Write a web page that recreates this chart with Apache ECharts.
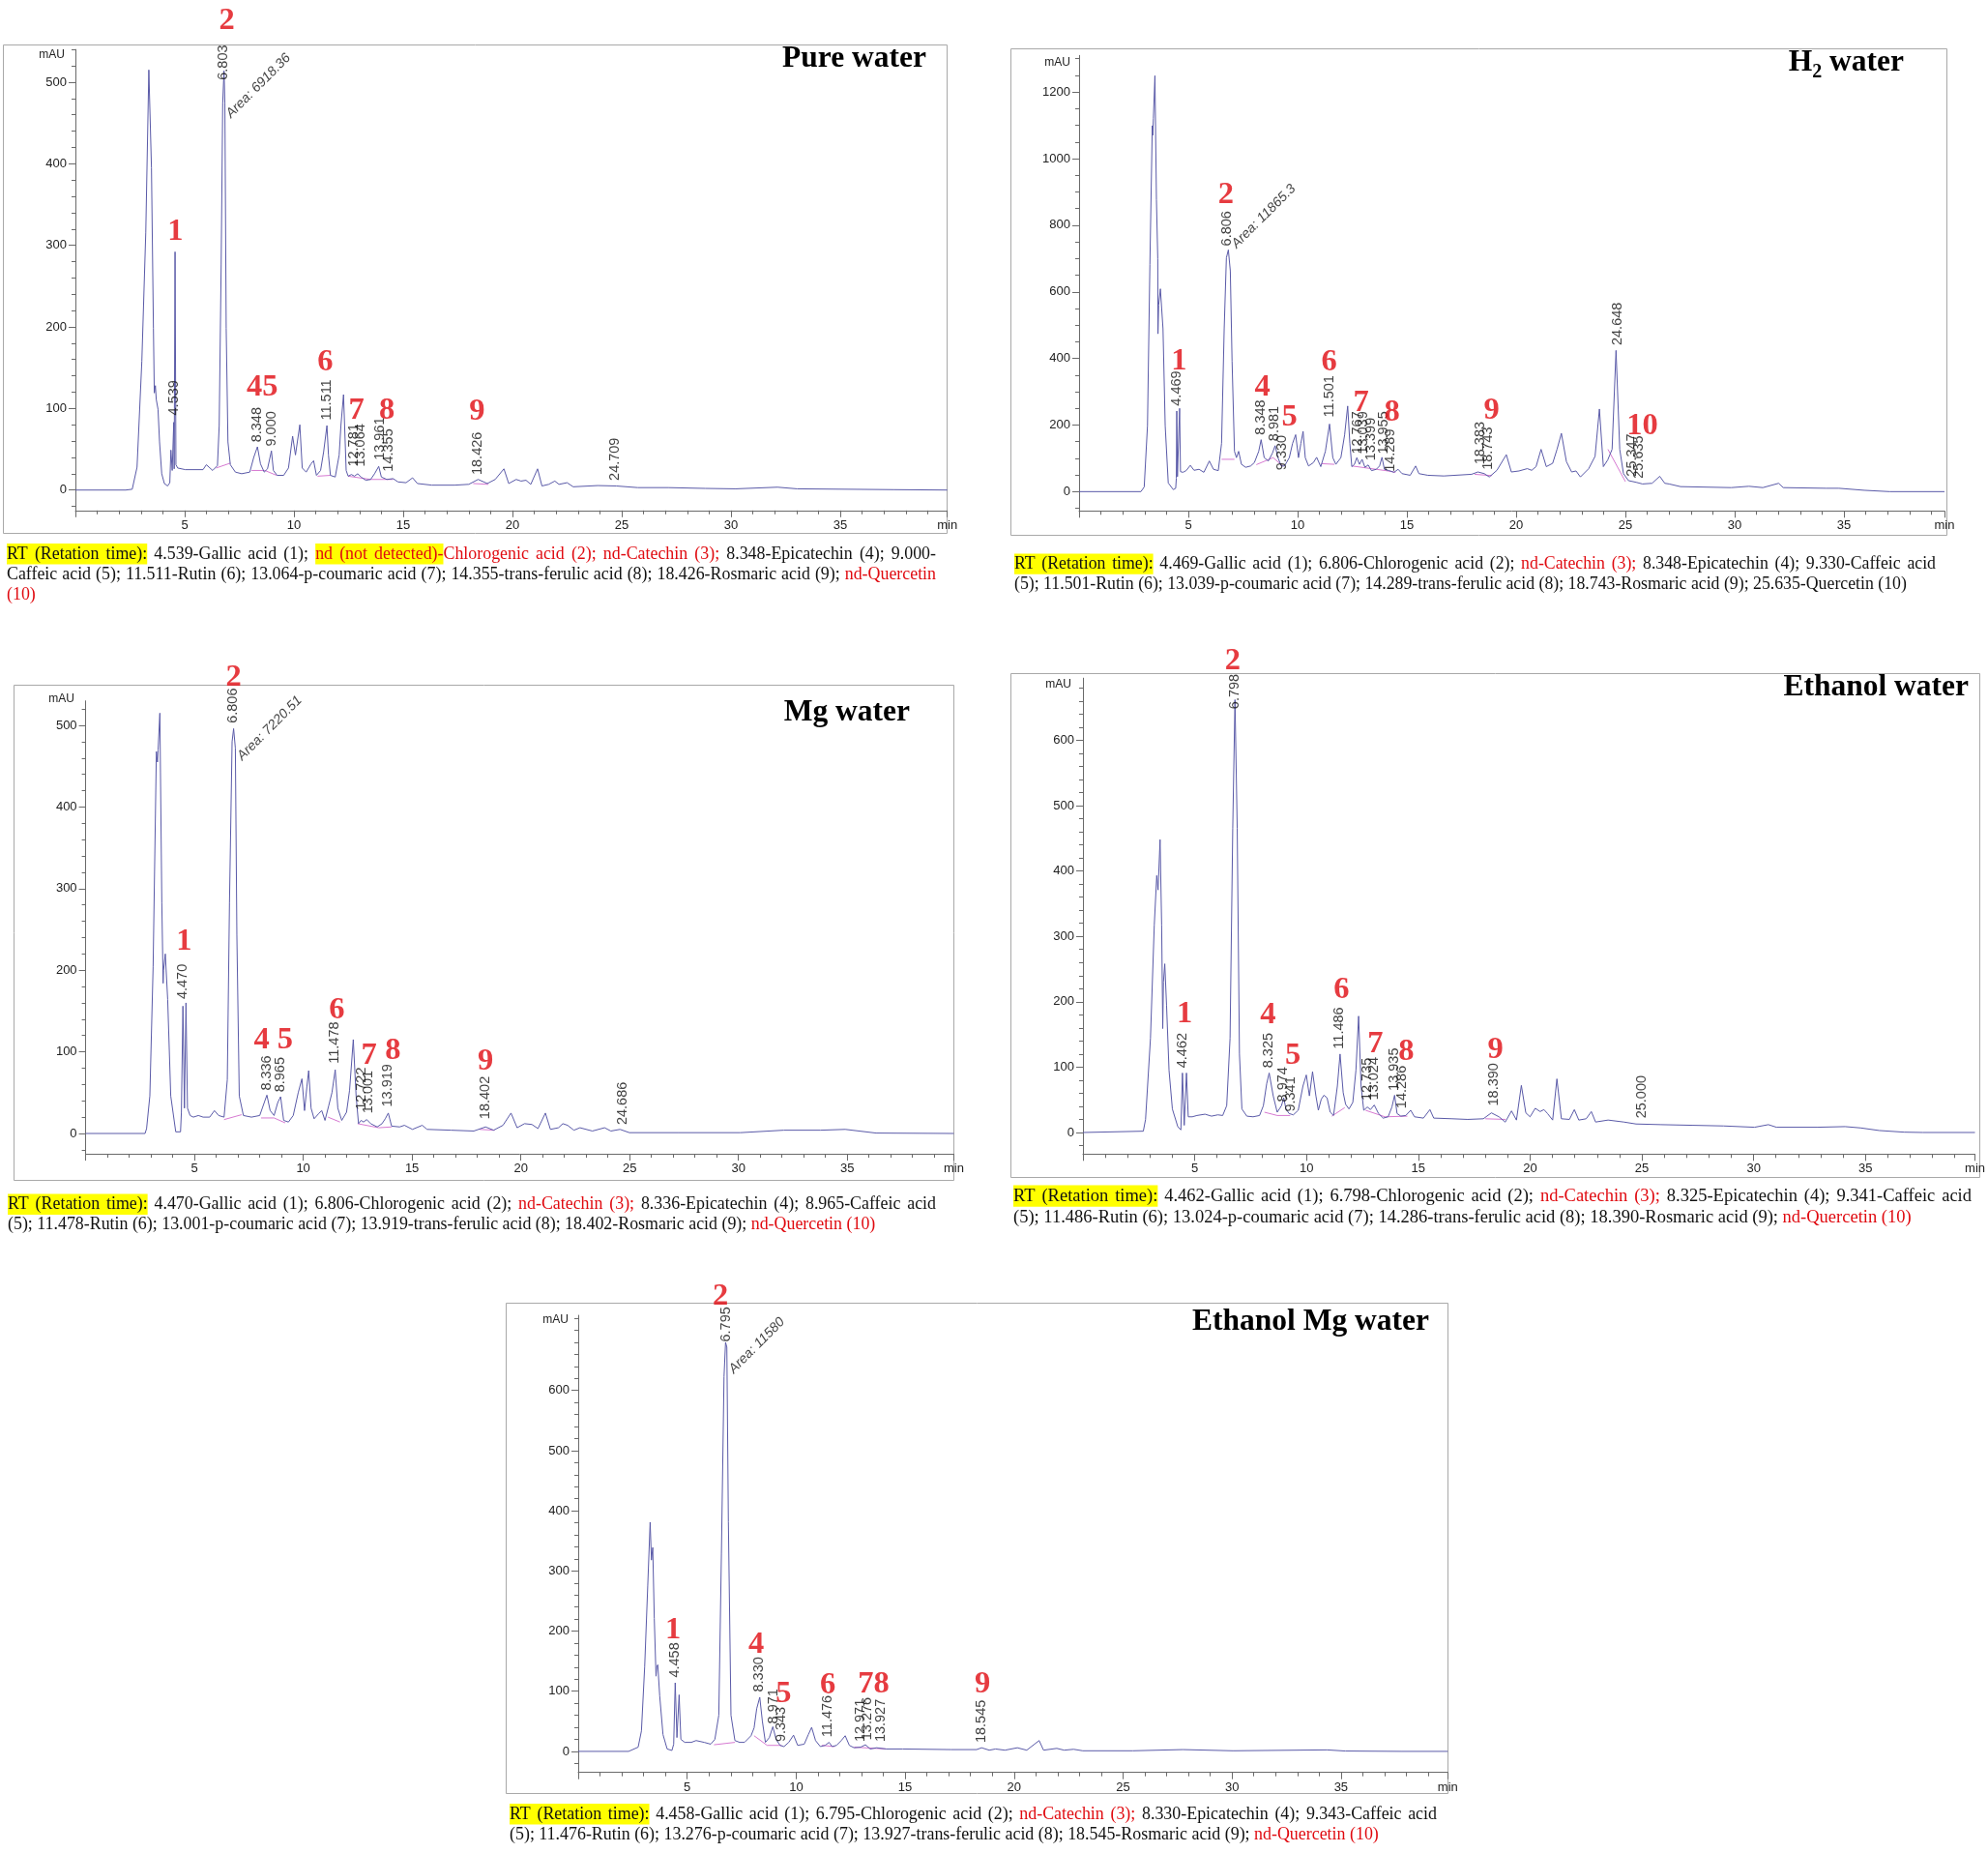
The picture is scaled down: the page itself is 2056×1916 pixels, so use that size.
<!DOCTYPE html>
<html><head><meta charset="utf-8">
<script src="https://cdn.jsdelivr.net/npm/echarts@6/dist/echarts.min.js"></script>
<style>html,body{margin:0;padding:0;background:#fff}#c{width:2056px;height:1916px}</style>
</head><body><div id="c"></div>
<script>
// ===================== DATA =====================
// Chromatogram traces: [retention time (min), absorbance (mAU)]
const pureTrace = [[0,0],[2.3,0],[2.6,1],[2.82,28],[3.04,158],[3.22,316],[3.36,515],[3.48,395],[3.57,198],[3.61,119],[3.66,128],[3.70,111],[3.78,99],[3.85,59],[3.95,20],[4.07,8],[4.22,5],[4.32,9],[4.37,49],[4.43,24],[4.50,83],[4.52,26],[4.56,292],[4.60,31],[4.68,27],[5.03,25],[5.84,25],[5.99,31],[6.28,24],[6.50,30],[6.58,79],[6.67,277],[6.74,474],[6.80,514],[6.84,474],[6.90,198],[6.98,59],[7.09,31],[7.32,22],[7.61,20],[7.98,22],[8.16,40],[8.33,53],[8.47,32],[8.64,22],[8.79,26],[8.97,48],[9.06,24],[9.23,18],[9.53,18],[9.75,27],[9.94,66],[10.07,43],[10.27,80],[10.38,27],[10.56,22],[10.78,32],[10.90,36],[11.03,18],[11.22,24],[11.36,47],[11.51,79],[11.58,43],[11.67,18],[11.89,16],[12.07,43],[12.15,79],[12.27,117],[12.39,24],[12.48,17],[12.63,19],[12.77,17],[12.92,20],[13.07,16],[13.29,12],[13.51,13],[13.69,20],[13.88,29],[14.00,16],[14.25,13],[14.54,14],[14.76,10],[15.13,9],[15.43,15],[15.65,8],[16.31,6],[17.35,6],[18.0,7],[18.43,13],[18.85,8],[19.21,13],[19.61,26],[19.83,8],[20.17,13],[20.39,11],[20.62,12],[20.84,7],[21.15,26],[21.35,5],[21.66,7],[21.94,11],[22.13,7],[22.5,9],[22.78,4],[23.9,5.5],[24.75,5],[25.73,3],[27.13,3],[28.82,2],[30.22,1.5],[32.13,3.5],[33.03,1.5],[37.44,0.5],[39.9,0]];
const h2Trace = [[0,0],[2.83,0],[2.98,14],[3.13,198],[3.24,682],[3.35,1099],[3.37,1070],[3.40,1120],[3.47,1249],[3.54,876],[3.60,700],[3.61,474],[3.64,560],[3.72,609],[3.84,489],[3.94,198],[4.08,26],[4.31,6],[4.42,10],[4.45,40],[4.47,242],[4.50,45],[4.56,40],[4.60,250],[4.64,60],[4.75,58],[4.90,63],[5.09,79],[5.26,64],[5.49,67],[5.71,58],[5.96,92],[6.15,67],[6.37,63],[6.52,145],[6.64,489],[6.74,702],[6.83,726],[6.92,663],[7.00,392],[7.11,121],[7.20,102],[7.30,121],[7.43,82],[7.62,73],[7.85,77],[8.02,87],[8.22,121],[8.33,156],[8.47,102],[8.66,92],[8.85,116],[8.97,138],[9.10,102],[9.25,77],[9.40,77],[9.62,102],[9.77,145],[9.91,171],[10.04,102],[10.15,145],[10.25,181],[10.35,102],[10.50,77],[10.72,87],[10.87,103],[11.06,75],[11.27,121],[11.46,203],[11.61,102],[11.75,82],[11.98,102],[12.15,170],[12.29,257],[12.39,145],[12.48,75],[12.60,82],[12.71,102],[12.83,82],[12.95,97],[13.08,73],[13.23,80],[13.38,63],[13.60,67],[13.75,77],[13.86,103],[13.97,67],[14.19,63],[14.41,58],[14.60,67],[14.78,54],[15.15,49],[15.40,77],[15.55,54],[15.96,49],[16.69,47],[17.96,52],[18.25,59],[18.54,54],[18.77,44],[19.12,64],[19.55,111],[19.78,59],[20.13,62],[20.51,69],[20.71,64],[20.91,75],[21.14,127],[21.38,75],[21.67,85],[21.87,127],[22.07,175],[22.30,90],[22.54,59],[22.74,62],[22.94,44],[23.32,69],[23.61,106],[23.81,248],[23.99,75],[24.19,95],[24.39,127],[24.57,424],[24.74,127],[24.91,54],[25.14,33],[25.49,28],[25.78,23],[26.22,25],[26.57,46],[26.8,25],[27.0,23],[27.52,15],[29.84,12],[30.65,16],[31.29,12],[32.01,25],[32.22,12],[34.19,10],[34.77,10],[35.93,4],[37.09,0],[39.6,0]];
const mgTrace = [[0,0],[2.73,0],[2.8,6],[2.95,46],[3.10,204],[3.25,468],[3.30,455],[3.33,470],[3.41,515],[3.50,283],[3.56,184],[3.58,200],[3.66,220],[3.77,164],[3.91,46],[4.14,2],[4.36,2],[4.40,26],[4.47,156],[4.54,31],[4.61,160],[4.68,31],[4.80,22],[4.95,20],[5.18,22],[5.40,20],[5.70,20],[5.92,28],[6.11,22],[6.36,20],[6.51,66],[6.61,283],[6.73,480],[6.80,496],[6.88,472],[6.95,243],[7.06,46],[7.25,22],[7.62,20],[8.00,22],[8.21,38],[8.33,47],[8.48,28],[8.66,22],[8.83,38],[8.96,45],[9.10,16],[9.32,14],[9.54,22],[9.77,50],[9.94,67],[10.06,28],[10.17,58],[10.25,77],[10.36,31],[10.50,18],[10.70,24],[10.85,28],[11.00,16],[11.17,34],[11.32,50],[11.47,78],[11.59,31],[11.77,16],[11.99,26],[12.13,53],[12.30,115],[12.43,46],[12.54,12],[12.66,16],[12.77,14],[12.92,17],[13.10,12],[13.40,8],[13.62,12],[13.77,18],[13.91,25],[14.06,9],[14.43,8],[14.65,10],[15.02,5],[15.47,10],[15.69,5],[16.8,4],[17.84,3],[18.38,8],[18.75,4],[19.18,10],[19.55,25],[19.83,7],[20.17,12],[20.51,11],[20.79,6],[21.13,25],[21.36,5],[21.73,7],[21.93,12],[22.15,10],[22.44,4],[22.72,7],[23.29,3],[23.85,7],[24.14,3],[24.56,5],[24.99,1],[27.26,1],[30.09,1],[32.08,4],[33.78,4],[34.91,5],[36.33,0.5],[39.9,0]];
const ethTrace = [[0,0],[2.7,2],[2.80,20],[3.02,144],[3.19,317],[3.30,393],[3.36,371],[3.45,448],[3.52,317],[3.57,159],[3.60,230],[3.66,258],[3.74,194],[3.85,95],[4.00,36],[4.24,9],[4.38,4],[4.45,91],[4.53,11],[4.63,91],[4.71,24],[4.89,24],[5.10,26],[5.46,28],[5.75,25],[6.03,27],[6.25,26],[6.43,41],[6.58,144],[6.70,465],[6.80,662],[6.90,465],[7.00,120],[7.11,36],[7.33,25],[7.61,24],[7.90,26],[8.07,41],[8.22,75],[8.33,91],[8.51,56],[8.69,31],[8.88,41],[8.98,53],[9.08,36],[9.22,29],[9.41,27],[9.63,34],[9.84,71],[9.99,88],[10.13,56],[10.27,93],[10.42,56],[10.53,34],[10.66,51],[10.78,57],[10.92,53],[11.06,31],[11.21,26],[11.38,71],[11.50,120],[11.64,61],[11.75,43],[11.90,36],[12.07,46],[12.21,95],[12.33,178],[12.44,71],[12.56,34],[12.72,39],[12.86,35],[13.03,42],[13.22,29],[13.43,22],[13.65,24],[13.82,39],[13.94,57],[14.05,29],[14.22,25],[14.44,26],[14.66,34],[14.83,24],[15.23,22],[15.52,35],[15.69,22],[16.52,21],[17.21,20],[17.91,21],[18.27,30],[18.61,24],[18.89,16],[19.17,33],[19.39,19],[19.61,72],[19.81,30],[20.0,24],[20.23,37],[20.45,32],[20.62,35],[20.78,29],[21.01,19],[21.2,82],[21.4,21],[21.76,20],[21.98,35],[22.18,19],[22.51,21],[22.74,32],[22.93,16],[23.49,19],[24.19,16],[24.74,13],[25.86,12],[27.25,11],[28.65,10],[30.04,8],[30.66,12],[31.02,8],[32.83,8],[34.09,9],[34.78,7],[35.62,3],[36.73,0.5],[37.57,0],[39.9,0]];
const ethMgTrace = [[0,0],[2.31,0],[2.75,7],[2.90,34],[3.05,141],[3.19,275],[3.30,381],[3.36,318],[3.42,339],[3.49,221],[3.57,125],[3.60,140],[3.65,144],[3.74,92],[3.89,28],[4.08,4],[4.30,1.5],[4.38,12],[4.45,114],[4.53,23],[4.63,94],[4.71,20],[4.89,15],[5.19,15],[5.41,18],[5.78,15],[6.08,12],[6.27,20],[6.45,60],[6.57,328],[6.69,623],[6.76,680],[6.82,672],[6.89,382],[7.01,60],[7.19,18],[7.41,15],[7.63,15],[7.93,26],[8.07,39],[8.19,71],[8.33,90],[8.45,50],[8.59,15],[8.77,23],[8.93,41],[9.08,20],[9.26,10],[9.44,8],[9.66,15],[9.88,27],[10.07,10],[10.37,12],[10.56,28],[10.71,40],[10.89,18],[11.11,8],[11.33,10],[11.51,15],[11.65,8],[11.85,10],[12.07,18],[12.25,26],[12.44,10],[12.66,6],[12.96,7],[13.18,11],[13.40,4],[13.69,6],[14.14,4],[14.88,4],[17.10,3],[18.28,3],[18.51,6],[18.86,2],[19.15,4],[19.58,2],[20.15,6],[20.58,2],[21.15,18],[21.35,2],[21.96,5],[22.30,2],[22.73,3.5],[23.15,1],[25.45,1],[27.74,3],[30.04,1],[34.35,2.5],[35.2,0.6],[37.8,0],[39.9,0]];

// Integration baselines (magenta): list of polylines [t, mAU]
const pureBase = [[[6.44,27],[7.09,33]],[[8.06,24],[8.67,24],[9.21,18]],[[11.08,17],[11.67,18]],[[12.48,17],[13.51,13],[14.54,13]],[[18.2,8],[18.9,7]]];
const h2Base = [[[6.52,97],[7.11,97]],[[8.11,81],[8.88,102],[9.32,77]],[[11.09,84],[11.68,82]],[[12.49,77],[14.04,63],[14.48,58]],[[18.1,52],[18.9,48]],[[24.2,127],[25.0,30]]];
const mgBase = [[[6.36,17],[7.17,23]],[[8.06,19],[8.66,19],[9.17,13]],[[11.14,20],[11.69,14]],[[12.5,12],[13.47,7],[14.06,8]],[[18.1,5],[18.8,4]]];
const ethBase = [[[8.12,31],[8.69,26],[9.27,26]],[[11.13,25],[11.71,38]],[[12.64,34],[13.51,24],[14.51,25]],[[18.0,21],[18.9,20]]];
const ethMgBase = [[[6.23,11],[7.19,15]],[[8.07,26],[8.67,10],[9.33,10]],[[11.18,10],[11.77,8]],[[12.66,7],[14.14,4]]];

// Retention-time peak labels: [RT (min), label foot height (mAU)]
const pureRT = [[4.539,91],[6.803,502],[8.348,58],[9.000,53],[11.511,85],[12.781,28],[13.064,28],[13.961,36],[14.355,22],[18.426,18],[24.709,11]];
const h2RT = [[4.469,256],[6.806,736],[8.348,169],[8.981,150],[9.330,63],[11.501,222],[12.767,111],[13.039,111],[13.399,92],[13.955,111],[14.289,58],[18.383,80],[18.743,64],[24.648,438],[25.347,44],[25.635,38]];
const mgRT = [[4.470,164],[6.806,502],[8.336,52],[8.965,50],[11.478,85],[12.722,28],[13.001,24],[13.919,32],[18.402,17],[24.686,10]];
const ethRT = [[4.462,98],[6.798,647],[8.325,98],[8.974,46],[9.341,31],[11.486,127],[12.735,48],[13.024,49],[13.935,63],[14.286,36],[18.390,40],[25.000,21]];
const ethMgRT = [[4.458,122],[6.795,680],[8.330,98],[8.971,45],[9.343,15],[11.476,23],[12.971,15],[13.276,18],[13.927,15],[18.545,13.5]];

// Peak area annotations: [t, mAU, text]
const pureArea = [[7.02,458,'Area: 6918.36']];
const h2Area = [[7.11,736,'Area: 11865.3']];
const mgArea = [[7.10,459,'Area: 7220.51']];
const ethArea = [];
const ethMgArea = [[7.04,631,'Area: 11580']];

// Compound numbers (red): [t, mAU, text]
const pureNum = [[6.95,575,'2'],[4.6,316,'1'],[8.57,125,'45'],[11.45,156,'6'],[12.88,97,'7'],[14.28,97,'8'],[18.4,96,'9']];
const h2Num = [[6.74,890,'2'],[4.60,389,'1'],[8.41,312,'4'],[9.65,220,'5'],[11.46,387,'6'],[12.93,266,'7'],[14.34,237,'8'],[18.9,243,'9'],[25.8,195,'10']];
const mgNum = [[6.82,558,'2'],[4.54,235,'1'],[8.65,114,'4 5'],[11.57,150,'6'],[13.05,95,'7'],[14.14,100,'8'],[18.4,87,'9']];
const ethNum = [[6.72,720,'2'],[4.57,180,'1'],[8.30,179,'4'],[9.41,116,'5'],[11.59,218,'6'],[13.10,134,'7'],[14.48,122,'8'],[18.47,126,'9']];
const ethMgNum = [[6.55,756,'2'],[4.38,201,'1'],[8.19,176,'4'],[9.45,95,'5'],[11.48,109,'6'],[13.58,110,'78'],[18.57,110,'9']];

// Axis tick labels
const pureYTicks = [0,100,200,300,400,500];
const h2YTicks = [0,200,400,600,800,1000,1200];
const mgYTicks = [0,100,200,300,400,500];
const ethYTicks = [0,100,200,300,400,500,600];
const ethMgYTicks = [0,100,200,300,400,500,600];
const xTickLabels = [5,10,15,20,25,30,35];

const titles = ['Pure water', 'H2 water', 'Mg water', 'Ethanol water', 'Ethanol Mg water'];

// Captions: segments [text, style]  n=normal, r=red, hl=highlight, rhl=red+highlight
const captions = [
  [[['RT (Retation time):','hl'],[' 4.539-Gallic acid (1); ','n'],['nd (not detected)-','rhl'],['Chlorogenic acid (2); nd-Catechin (3);','r'],[' 8.348-Epicatechin (4); 9.000-','n']],
   [['Caffeic acid (5); 11.511-Rutin (6); 13.064-p-coumaric acid (7); 14.355-trans-ferulic acid (8); 18.426-Rosmaric acid (9); ','n'],['nd-Quercetin','r']],
   [['(10)','r']]],
  [[['RT (Retation time):','hl'],[' 4.469-Gallic acid (1); 6.806-Chlorogenic acid (2); ','n'],['nd-Catechin (3);','r'],[' 8.348-Epicatechin (4); 9.330-Caffeic acid','n']],
   [['(5); 11.501-Rutin (6); 13.039-p-coumaric acid (7); 14.289-trans-ferulic acid (8); 18.743-Rosmaric acid (9); 25.635-Quercetin (10)','n']]],
  [[['RT (Retation time):','hl'],[' 4.470-Gallic acid (1); 6.806-Chlorogenic acid (2); ','n'],['nd-Catechin (3);','r'],[' 8.336-Epicatechin (4); 8.965-Caffeic acid','n']],
   [['(5); 11.478-Rutin (6); 13.001-p-coumaric acid (7); 13.919-trans-ferulic acid (8); 18.402-Rosmaric acid (9); ','n'],['nd-Quercetin (10)','r']]],
  [[['RT (Retation time):','hl'],[' 4.462-Gallic acid (1); 6.798-Chlorogenic acid (2); ','n'],['nd-Catechin (3);','r'],[' 8.325-Epicatechin (4); 9.341-Caffeic acid','n']],
   [['(5); 11.486-Rutin (6); 13.024-p-coumaric acid (7); 14.286-trans-ferulic acid (8); 18.390-Rosmaric acid (9); ','n'],['nd-Quercetin (10)','r']]],
  [[['RT (Retation time):','hl'],[' 4.458-Gallic acid (1); 6.795-Chlorogenic acid (2); ','n'],['nd-Catechin (3);','r'],[' 8.330-Epicatechin (4); 9.343-Caffeic acid','n']],
   [['(5); 11.476-Rutin (6); 13.276-p-coumaric acid (7); 13.927-trans-ferulic acid (8); 18.545-Rosmaric acid (9); ','n'],['nd-Quercetin (10)','r']]]
];

// ===================== LAYOUT =====================
const layout = [
  {left:78, top:51.2, width:901.7, height:476.6, xMax:39.9, yMin:-25, yMax:540, minor:20, frame:[3.5,46.5,976,505], mAU:[67,57], title:{right:958, mid:61}, cap:{x:7,y:573,gap:21,w:961,justify:[1,1,0],fit:2}},
  {left:1116, top:57.3, width:895, height:471.0, xMax:39.6, yMin:-58, yMax:1310, minor:50, frame:[1045.5,50.5,968,503], mAU:[1107,64.6], title:{right:1969, mid:65}, cap:{x:1049,y:583.5,gap:21,w:953,justify:[1,0],fit:924}},
  {left:88.6, top:724.7, width:897.8, height:468.4, xMax:39.9, yMin:-25, yMax:530, minor:20, frame:[14.5,708.5,972,512], mAU:[77,723], title:{right:941, mid:737}, cap:{x:8,y:1245.6,gap:21,w:960,justify:[1,0],fit:898}},
  {left:1120, top:701.2, width:925.7, height:492.1, xMax:39.9, yMin:-33, yMax:695, minor:20, frame:[1045.5,696.5,1002,521], mAU:[1108,708], title:{right:2036, mid:711}, cap:{x:1048,y:1237,gap:22,w:991,justify:[1,0],fit:929}},
  {left:598, top:1360, width:899.3, height:472.7, xMax:39.9, yMin:-35, yMax:725, minor:20, frame:[523.5,1347.5,974,507], mAU:[588,1365], title:{right:1478, mid:1367}, cap:{x:527,y:1876,gap:21,w:959,justify:[1,0],fit:900}}
];

const panels = [
  {trace:pureTrace, base:pureBase, rt:pureRT, area:pureArea, num:pureNum, yTicks:pureYTicks},
  {trace:h2Trace, base:h2Base, rt:h2RT, area:h2Area, num:h2Num, yTicks:h2YTicks},
  {trace:mgTrace, base:mgBase, rt:mgRT, area:mgArea, num:mgNum, yTicks:mgYTicks},
  {trace:ethTrace, base:ethBase, rt:ethRT, area:ethArea, num:ethNum, yTicks:ethYTicks},
  {trace:ethMgTrace, base:ethMgBase, rt:ethMgRT, area:ethMgArea, num:ethMgNum, yTicks:ethMgYTicks}
];

const RED = '#e00a10';
const TRACE = '#5a5aa8';
const AXIS = '#6a6a6a';
const TITLE_FS = 31.5;
const NUM_FS = 32.5;
const RT_FS = 14.5;
const SANS = '"Liberation Sans", Arial, sans-serif';
const SERIF = '"Liberation Serif", "Times New Roman", serif';

const mcv = document.createElement('canvas').getContext('2d');
function measure(text, font){ mcv.font = font; return mcv.measureText(text).width; }

const grids=[], xAxes=[], yAxes=[], series=[], graphics=[];

panels.forEach((p,i)=>{
  const L = layout[i];
  grids.push({left:L.left, top:L.top, width:L.width, height:L.height, containLabel:false});
  xAxes.push({type:'value', gridIndex:i, min:0, max:L.xMax, interval:5,
    axisLine:{show:true, onZero:false, lineStyle:{color:AXIS, width:1}},
    axisTick:{show:true, length:7, lineStyle:{color:AXIS}},
    minorTick:{show:true, splitNumber:5, length:4, lineStyle:{color:AXIS}},
    splitLine:{show:false}, minorSplitLine:{show:false},
    axisLabel:{margin:9, fontSize:13, color:'#222', fontFamily:SANS,
      formatter: v => v === 0 ? '' : (xTickLabels.indexOf(v) >= 0 ? String(v) : 'min')}
  });
  const minors = [];
  for (let v = Math.ceil(L.yMin / L.minor) * L.minor; v <= L.yMax; v += L.minor) minors.push(v);
  yAxes.push({type:'value', gridIndex:i, position:'left', min:L.yMin, max:L.yMax,
    axisLine:{show:true, onZero:false, lineStyle:{color:AXIS, width:1}},
    axisTick:{show:true, length:7, customValues:p.yTicks, lineStyle:{color:AXIS}},
    axisLabel:{customValues:p.yTicks, margin:9, fontSize:13, color:'#222', fontFamily:SANS, formatter: v => String(v)},
    splitLine:{show:false}});
  yAxes.push({type:'value', gridIndex:i, position:'left', offset:0, min:L.yMin, max:L.yMax,
    axisLine:{show:false, onZero:false},
    axisTick:{show:true, length:4, customValues:minors, lineStyle:{color:AXIS}},
    axisLabel:{show:false}, splitLine:{show:false}});

  series.push({type:'line', xAxisIndex:i, yAxisIndex:2*i, data:p.trace, showSymbol:false, symbol:'none',
    lineStyle:{color:TRACE, width:1}, silent:true, z:3});
  series.push({type:'lines', coordinateSystem:'cartesian2d', xAxisIndex:i, yAxisIndex:2*i, polyline:true,
    data:p.base.map(seg=>({coords:seg})), lineStyle:{color:'#d77ad2', width:1, opacity:1}, silent:true, z:2});
  series.push({type:'scatter', xAxisIndex:i, yAxisIndex:2*i, clip:false, symbolSize:1,
    itemStyle:{color:'rgba(0,0,0,0)'}, silent:true, z:5,
    data:p.rt.map(d=>({value:[d[0],d[1]], name:d[0].toFixed(3)})),
    label:{show:true, position:[0,0], rotate:90, align:'left', verticalAlign:'middle', formatter:'{b}',
      fontSize:RT_FS, fontFamily:SANS, color:'#111'}});
  series.push({type:'scatter', xAxisIndex:i, yAxisIndex:2*i, clip:false, symbolSize:1,
    itemStyle:{color:'rgba(0,0,0,0)'}, silent:true, z:5,
    data:p.area.map(d=>({value:[d[0],d[1]], name:d[2]})),
    label:{show:true, position:[0,0], rotate:45, align:'left', verticalAlign:'middle', formatter:'{b}',
      fontSize:14, fontStyle:'italic', fontFamily:SANS, color:'#111'}});
  series.push({type:'scatter', xAxisIndex:i, yAxisIndex:2*i, clip:false, symbolSize:1,
    itemStyle:{color:'rgba(0,0,0,0)'}, silent:true, z:6,
    data:p.num.map(d=>({value:[d[0],d[1]], name:d[2]})),
    label:{show:true, position:[0,0], align:'center', verticalAlign:'middle', formatter:'{b}',
      fontSize:NUM_FS, fontWeight:'bold', fontFamily:SERIF, color:RED}});

  graphics.push({type:'rect', silent:true, z:0, shape:{x:L.frame[0], y:L.frame[1], width:L.frame[2], height:L.frame[3]},
    style:{fill:null, stroke:'#a9a9a9', lineWidth:1}});
  graphics.push({type:'text', silent:true, x:L.mAU[0], y:L.mAU[1],
    style:{text:'mAU', fontSize:12, fontFamily:SANS, fill:'#222', align:'right', verticalAlign:'middle'}});
  if (i === 1) {
    const fBig = 'bold ' + TITLE_FS + 'px ' + SERIF, fSub = 'bold 20px ' + SERIF;
    const wW = measure(' water', fBig), w2 = measure('2', fSub), wH = measure('H', fBig);
    const x0 = L.title.right - wW - w2 - wH;
    graphics.push({type:'text', silent:true, x:x0, y:L.title.mid, style:{text:'H', fontSize:TITLE_FS, fontWeight:'bold', fontFamily:SERIF, fill:'#000', align:'left', verticalAlign:'middle'}});
    graphics.push({type:'text', silent:true, x:x0+wH, y:L.title.mid+10, style:{text:'2', fontSize:20, fontWeight:'bold', fontFamily:SERIF, fill:'#000', align:'left', verticalAlign:'middle'}});
    graphics.push({type:'text', silent:true, x:x0+wH+w2, y:L.title.mid, style:{text:' water', fontSize:TITLE_FS, fontWeight:'bold', fontFamily:SERIF, fill:'#000', align:'left', verticalAlign:'middle'}});
  } else {
    graphics.push({type:'text', silent:true, x:L.title.right, y:L.title.mid,
      style:{text:titles[i], fontSize:TITLE_FS, fontWeight:'bold', fontFamily:SERIF, fill:'#000', align:'right', verticalAlign:'middle'}});
  }
});

// captions
function lineText(segs){ return segs.map(s=>s[0]).join(''); }
const fitSizes = [];
captions.forEach((cap,i)=>{
  const C = layout[i].cap;
  if (C.fit > 10) {
    const last = cap[cap.length-1];
    fitSizes[i] = 100 * C.fit / measure(lineText(last), '100px ' + SERIF);
  }
});
fitSizes[0] = fitSizes[2];

captions.forEach((cap,i)=>{
  const C = layout[i].cap;
  const fs = fitSizes[i];
  const font = fs + 'px ' + SERIF;
  cap.forEach((segs, li)=>{
    const y = C.y + li*C.gap;
    const words = []; let cur = null;
    segs.forEach(([txt, st])=>{
      for (const ch of txt) {
        if (ch === ' ') { cur = null; continue; }
        if (!cur) { cur = []; words.push(cur); }
        const last = cur[cur.length-1];
        if (last && last.st === st) last.t += ch; else cur.push({t:ch, st});
      }
    });
    const wW = words.map(w=>w.reduce((s,r)=>s+measure(r.t,font),0));
    const sum = wW.reduce((a,b)=>a+b,0);
    const gap = (C.justify[li] && words.length>1) ? (C.w - sum)/(words.length-1) : measure(' ', font);
    let x = C.x; const runs = [];
    words.forEach(w=>{ w.forEach(r=>{ const rw = measure(r.t,font); runs.push({x, w:rw, r}); x += rw; }); x += gap; });
    let rect = null; const rects = [];
    runs.forEach(o=>{
      const hl = o.r.st === 'hl' || o.r.st === 'rhl';
      if (hl) { if (rect) rect.x2 = o.x + o.w; else rect = {x1:o.x, x2:o.x+o.w}; }
      else if (rect) { rects.push(rect); rect = null; }
    });
    if (rect) rects.push(rect);
    rects.forEach(r=>graphics.push({type:'rect', silent:true, z:1, shape:{x:r.x1, y:y-fs*0.62, width:r.x2-r.x1, height:fs*1.2}, style:{fill:'#ffff00'}}));
    runs.forEach(o=>{
      const red = o.r.st === 'r' || o.r.st === 'rhl';
      graphics.push({type:'text', silent:true, z:2, x:o.x, y:y,
        style:{text:o.r.t, fontSize:fs, fontFamily:SERIF, fill: red ? RED : '#111', align:'left', verticalAlign:'middle'}});
    });
  });
});

const chart = echarts.init(document.getElementById('c'), null, {renderer:'canvas', width:2056, height:1916});
chart.setOption({
  animation:false,
  backgroundColor:'#ffffff',
  grid:grids, xAxis:xAxes, yAxis:yAxes, series:series,
  graphic:{elements:graphics}
});
</script>
</body></html>
